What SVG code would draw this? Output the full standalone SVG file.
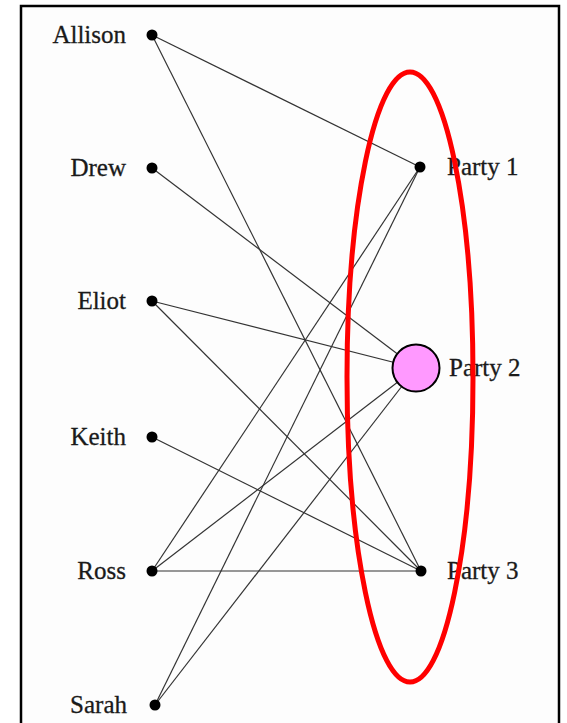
<svg xmlns="http://www.w3.org/2000/svg" width="567" height="723" viewBox="0 0 567 723">
<style>
.lbl{font-family:"Liberation Serif","Times New Roman",serif;font-size:25px;fill:#1a1a1a;stroke:#1a1a1a;stroke-width:0.3}
.l{text-anchor:end}
.e{stroke:#333;stroke-width:1.2;fill:none}
.d{fill:#000}
</style>
<rect x="0" y="0" width="567" height="723" fill="#fff"/>
<rect x="21" y="6" width="538" height="730" fill="#fdfdfd" stroke="#000" stroke-width="2.5"/>
<g id="connectors">
<line class="e" x1="152" y1="35" x2="420" y2="167"/>
<line class="e" x1="152" y1="35" x2="421" y2="571"/>
<line class="e" x1="152" y1="168" x2="416" y2="368"/>
<line class="e" x1="152" y1="301" x2="416" y2="368"/>
<line class="e" x1="152" y1="301" x2="421" y2="571"/>
<line class="e" x1="152" y1="437" x2="421" y2="571"/>
<line class="e" x1="152" y1="571" x2="420" y2="167"/>
<line class="e" x1="152" y1="571" x2="416" y2="368"/>
<line class="e" x1="152" y1="571" x2="421" y2="571"/>
<line class="e" x1="155" y1="705" x2="420" y2="167"/>
<line class="e" x1="155" y1="705" x2="416" y2="368"/>
</g>
<g id="allison"><circle class="d" cx="152" cy="35" r="5.5"/><text class="lbl l" x="126" y="43">Allison</text></g>
<g id="drew"><circle class="d" cx="152" cy="168" r="5.5"/><text class="lbl l" x="126" y="176">Drew</text></g>
<g id="eliot"><circle class="d" cx="152" cy="301" r="5.5"/><text class="lbl l" x="126" y="309">Eliot</text></g>
<g id="keith"><circle class="d" cx="152" cy="437" r="5.5"/><text class="lbl l" x="126" y="445">Keith</text></g>
<g id="ross"><circle class="d" cx="152" cy="571" r="5.5"/><text class="lbl l" x="126" y="579">Ross</text></g>
<g id="sarah"><circle class="d" cx="155" cy="705" r="5.5"/><text class="lbl l" x="127" y="713">Sarah</text></g>
<g id="party1"><circle class="d" cx="420" cy="167" r="5.5"/><text class="lbl" x="447" y="175">Party 1</text></g>
<g id="party2"><circle cx="416" cy="368" r="23.5" fill="#ff99ff" stroke="#000" stroke-width="2"/><text class="lbl" x="449" y="376">Party 2</text></g>
<g id="party3"><circle class="d" cx="421" cy="571" r="5.5"/><text class="lbl" x="447" y="579">Party 3</text></g>
<g id="highlight"><ellipse cx="410" cy="377" rx="63" ry="305" fill="none" stroke="#ff0000" stroke-width="5"/></g>
</svg>
